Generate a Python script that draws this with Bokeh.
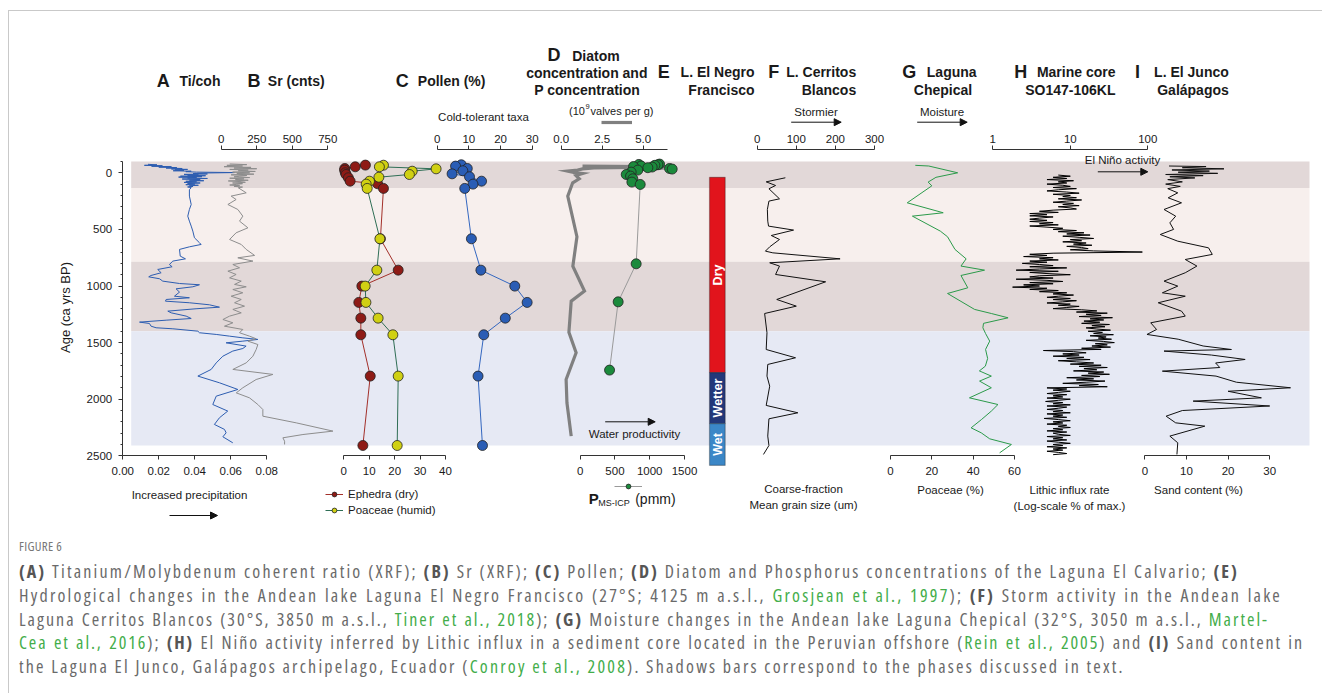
import math
import numpy as np
from bokeh.plotting import figure
from bokeh.models import (Range1d, LinearAxis, LogAxis, LogScale, FixedTicker, SingleIntervalTicker,
                          NumeralTickFormatter, BoxAnnotation, Label, Arrow, NormalHead, Legend,
                          LegendItem, Div)
from bokeh.layouts import column
from bokeh.embed import file_html
from bokeh.resources import INLINE

# ---------------------------------------------------------------- data
phase_edges = [-100, 135, 785, 1400, 2410]
phase_colors = ["#e2d8d8", "#f7efed", "#e2d8d8", "#e6e9f4"]

# A  Ti/coh
ti_age = [-75, -70, -66, -62, -58, -54, -50, -46, -42, -38, -34, -30, -26, -22, -18, -14, -10, -6, -2,
          2, 6, 10, 14, 18, 22, 26, 30, 34, 38, 42, 46, 50, 55, 60, 65, 70, 75, 80, 85, 90, 95, 100,
          105, 110, 115, 120, 125, 130,
          150, 206, 280, 324, 383, 427, 471, 515, 574, 618, 633, 654, 677, 736, 760, 780, 810, 830,
          854, 883, 907, 919, 936, 957, 978, 989, 1007, 1025, 1054, 1090, 1104, 1119, 1134, 1148,
          1166, 1187, 1201, 1222, 1237, 1266, 1287, 1302, 1319, 1331, 1355, 1369, 1378, 1399, 1413,
          1428, 1443, 1458, 1472, 1487, 1502, 1531, 1552, 1575, 1620, 1679, 1737, 1796, 1855, 1914,
          1973, 2047, 2105, 2164, 2223, 2267, 2297, 2332, 2385]
ti_coh = [0.014, 0.019, 0.012, 0.022, 0.016, 0.027, 0.020, 0.030, 0.024, 0.033, 0.027, 0.036, 0.029,
          0.034, 0.028, 0.038, 0.035, 0.041, 0.062, 0.045, 0.039, 0.047, 0.034, 0.042, 0.036, 0.046,
          0.032, 0.044, 0.031, 0.041, 0.036, 0.047, 0.033, 0.043, 0.037, 0.045, 0.035, 0.041, 0.034,
          0.043, 0.036, 0.040, 0.035, 0.042, 0.037, 0.039, 0.036, 0.038,
          0.0370, 0.0370, 0.0380, 0.0370, 0.0361, 0.0370, 0.0380, 0.0389, 0.0398, 0.0426, 0.0435,
          0.0370, 0.0315, 0.0319, 0.0348, 0.0278, 0.0259, 0.0274, 0.0194, 0.0213, 0.0157, 0.0144,
          0.0204, 0.0222, 0.0315, 0.0426, 0.0389, 0.0296, 0.0315, 0.0287, 0.0370, 0.0241, 0.0237,
          0.0370, 0.0481, 0.0537, 0.0407, 0.0250, 0.0269, 0.0352, 0.0380, 0.0241, 0.0093, 0.0148,
          0.0157, 0.0185, 0.0278, 0.0417, 0.0426, 0.0519, 0.0593, 0.0667, 0.0750, 0.0667, 0.0574,
          0.0685, 0.0667, 0.0611, 0.0556, 0.0519, 0.0491, 0.0417, 0.0537, 0.0639, 0.0519, 0.0500,
          0.0583, 0.0537, 0.0509, 0.0565, 0.0574, 0.0556, 0.0611]

# B  Sr counts
sr_age = [-78, -72, -66, -60, -54, -48, -42, -36, -30, -24, -18, -12, -6, 0, 6, 12, 18, 24, 30, 36,
          42, 48, 54, 60, 66, 72, 78, 84, 90, 96, 102, 108, 114, 120, 126, 132,
          177, 206, 236, 280, 324, 383, 427, 486, 530, 589, 633, 677, 730, 751, 780, 810, 839, 869,
          898, 928, 957, 986, 1007, 1031, 1060, 1090, 1119, 1148, 1178, 1207, 1237, 1266, 1296,
          1325, 1355, 1384, 1413, 1443, 1466, 1487, 1517, 1561, 1620, 1679, 1737, 1781, 1826,
          1899, 1944, 1988, 2047, 2091, 2150, 2209, 2282, 2312, 2341, 2371, 2400]
sr_cnts = [60, 180, 40, 150, 20, 210, 90, 250, 60, 190, 120, 240, 80, 200, 110, 230, 70, 180, 130,
           90, 200, 60, 160, 100, 190, 50, 140, 170, 80, 150, 110, 60, 130, 90, 150, 120,
           176, 70, 105, 47, 117, 152, 129, 188, 105, 59, 141, 176, 235, 117, 223, 82, 129, 47,
           105, 59, 141, 94, 176, 82, 152, 70, 141, 94, 164, 82, 141, 59, 12, 82, 23, 152, 129,
           199, 246, 188, 258, 246, 223, 176, 82, 364, 246, 152, 106, 199, 258, 293, 293, 528,
           786, 575, 434, 446, 446]

# C  Pollen (%)
ephedra_age = [-68, -53, -38, -24, 0, 15, 44, 74, 97, 138, 583, 860, 1001, 1145, 1284, 1431, 1796, 2409]
ephedra = [8.5, 4.5, 0.4, 0.3, 0.6, 0.9, 1.8, 2.5, 13.3, 15.6, 14.4, 21.4, 7.1, 5.9, 6.7, 6.7, 10.4, 7.5]
poaceae_age = [-67, -53, -35, -14, 15, 39, 74, 100, 138, 583, 860, 1001, 1145, 1284, 1431, 1796, 2409]
poaceae = [15.6, 14.0, 36.3, 26.9, 25.8, 13.8, 10.1, 8.8, 9.2, 14.2, 13.0, 8.4, 8.7, 13.5, 19.3, 21.4, 21.0]
cold_age = [-71, -59, -38, -18, 9, 35, 74, 100, 138, 583, 860, 1001, 1145, 1284, 1431, 1796, 2409]
cold_taxa = [7.6, 5.8, 9.5, 8.1, 4.7, 10.2, 14.0, 11.3, 8.7, 10.8, 13.8, 24.5, 28.4, 21.5, 14.7, 12.9, 14.3]

# D  Diatoms (10^9 valves/g) and P (ppm)
diatom_age = [-60, -53, -44, -35, -24, -15, 0, 6, 24, 53, 88, 206, 565, 825, 1045, 1134, 1408, 1590,
              1826, 2032, 2326]
diatom = [1.3, 6.8, 2.0, 1.3, 1.0, 0.4, 0.9, 1.3, 0.9, 1.1, 0.7, 0.4, 0.96, 0.71, 1.42, 0.61, 0.47,
          0.91, 0.30, 0.35, 0.61]
p_age = [-77, -74, -71, -66, -60, -55, -51, -45, -38, -33, -24, -6, 15, 29, 53, 82, 103, 804, 1140, 1743]
p_ppm = [1141, 844, 1117, 1074, 877, 767, 1035, 973, 1285, 1323, 829, 733, 662, 724, 757, 743, 863,
         805, 546, 422]

# E  L. El Negro Francisco hydrological phases
phase_names = ["Dry", "Wetter", "Wet"]
phase_top = [40, 1765, 2215]
phase_bottom = [1765, 2215, 2585]
phase_fill = ["#e1141c", "#23387a", "#3b87c7"]

# F  L. Cerritos Blancos mean grain size (um)
cb_age = [44, 80, 112, 141, 230, 250, 324, 427, 471, 506, 554, 589, 654, 692, 707, 760, 795, 824, 898,
          963, 1119, 1178, 1243, 1413, 1561, 1634, 1693, 1796, 1885, 2055, 2120, 2173, 2326, 2409, 2488]
cb_grain = [72, 23, 47, 30, 57, 30, 26, 27, 29, 93, 36, 57, 32, 21, 40, 212, 32, 57, 47, 175, 50, 100,
            19, 25, 23, 98, 27, 25, 32, 23, 104, 30, 27, 30, 16]

# G  Laguna Chepical Poaceae (%)
ch_age = [-66, -60, 0, 40, 82, 115, 265, 353, 383, 515, 565, 677, 760, 824, 860, 907, 1016, 1066, 1207,
          1243, 1281, 1330, 1369, 1420, 1487, 1560, 1640, 1708, 1750, 1796, 1840, 1899, 1988, 2047,
          2105, 2180, 2253, 2297, 2350, 2400, 2474]
ch_poaceae = [12.0, 18.5, 32.5, 22.0, 18.2, 20.0, 8.1, 25.5, 10.6, 24.1, 27.6, 31.2, 36.6, 34.1, 45.5,
              34.1, 37.4, 27.6, 40.7, 48.8, 56.9, 45.0, 44.7, 46.0, 48.0, 46.0, 47.0, 45.9, 43.0, 48.8,
              43.1, 48.8, 38.2, 52.0, 48.8, 44.0, 39.0, 43.9, 48.0, 58.5, 52.8]

# H  SO147-106KL lithic influx (% of max), 10-yr samples from 20 to 2490 yr BP
lith_first, lith_step = 20, 10
lithic = [7, 10, 6, 9, 5, 11, 7, 9, 5, 8,
          10, 6, 12, 7, 5, 9, 13, 6, 10, 8,
          12, 7, 14, 9, 6, 11, 8, 13, 7, 10,
          12, 6, 4, 7, 3, 5, 3, 6, 4, 3,
          5, 3, 6, 4, 7, 3, 5, 8, 6, 12,
          7, 15, 9, 18, 8, 13, 20, 10, 14, 8,
          16, 11, 19, 9, 14, 17, 10, 20, 85, 6,
          3, 5, 2.5, 6, 4, 7, 3, 5, 2.4, 4,
          6, 3, 9, 4, 2, 7, 3, 5, 10, 4,
          3, 6, 2, 5, 8, 3, 6, 2.5, 4, 1.8,
          5, 3, 7, 4, 9, 6, 11, 7, 5, 10,
          6, 12, 8, 5, 10, 7, 13, 9, 6, 14,
          22, 12, 30, 16, 25, 13, 35, 18, 27, 15,
          24, 14, 32, 19, 28, 16, 22, 33, 17, 26,
          20, 36, 18, 29, 23, 34, 16, 27, 37, 21,
          30, 19, 33, 14, 25, 4.5, 11, 16, 8, 13,
          6, 15, 9, 18, 7, 12, 20, 10, 25, 13,
          30, 15, 22, 11, 27, 17, 32, 14, 24, 9,
          20, 12, 28, 16, 8, 23, 13, 30, 5, 9,
          6, 10, 7, 5, 9, 6, 8, 5, 10, 7,
          4.8, 8, 6, 10, 5, 9, 7, 5, 8, 6,
          10, 5, 8, 6, 9, 4.6, 7, 10, 6, 8,
          5, 9, 7, 10, 6, 8, 5, 9, 6, 7,
          10, 5, 8, 6, 9, 5, 7, 10, 6, 8,
          5, 9, 6, 8, 5, 7, 9, 6]
lithic_age = list(range(lith_first, lith_first + lith_step * len(lithic), lith_step))

# I  L. El Junco sand content (%)
junco_age = [-60, -55, -45, -35, -25, -15, -5, 5, 15, 25, 35, 45, 60, 80, 100, 120, 140, 177, 221, 265,
             324, 383, 442, 500, 545, 604, 663, 721, 766, 824, 883, 957, 1001, 1060, 1090, 1148, 1222,
             1266, 1325, 1384, 1428, 1470, 1530, 1561, 1575, 1610, 1649, 1680, 1720, 1752, 1796, 1850,
             1899, 1930, 1988, 2017, 2060, 2100, 2150, 2209, 2238, 2326, 2385, 2488]
junco_sand = [5.8, 14.7, 9.0, 19.0, 6.5, 15.5, 8.0, 17.5, 5.0, 14.0, 6.0, 12.0, 5.5, 9.0, 5.0, 8.5, 5.5,
              7.9, 5.6, 8.8, 4.6, 7.4, 6.0, 6.9, 3.7, 7.9, 15.3, 16.2, 9.7, 12.5, 9.7, 4.6, 7.9, 4.2,
              9.7, 3.2, 8.8, 9.7, 1.4, 2.8, 0.5, 8.0, 14.0, 20.8, 4.6, 16.0, 24.1, 17.0, 18.0, 4.2,
              17.1, 22.0, 35.0, 20.0, 28.0, 11.6, 30.0, 9.0, 5.1, 7.4, 14.4, 6.0, 7.9, 7.7]

# ---------------------------------------------------------------- canvas geometry
W, H = 1312, 522          # canvas size
X0, Y0 = 10, 12           # canvas offset on the page
AGE_Y0, PX_PER_YR = 173.3, 0.1132   # vertical position of age 0 and pixels per year


def page_range(v0, px0, v1, px1):
    """Range whose values v0/v1 fall at page columns px0/px1."""
    k = (px1 - px0) / (v1 - v0)
    return Range1d(v0 + (X0 - px0) / k, v0 + (X0 + W - px0) / k)


def log_page_range(v0, px0, v1, px1):
    r = page_range(math.log10(v0), px0, math.log10(v1), px1)
    return Range1d(10 ** r.start, 10 ** r.end)


p = figure(width=W, height=H, output_backend="svg", toolbar_location=None,
           x_range=Range1d(X0, X0 + W), y_range=Range1d(Y0 + H, Y0),
           x_axis_location=None, y_axis_location=None, min_border=0,
           outline_line_color=None, background_fill_color="white", border_fill_color="white")
p.grid.visible = False

p.extra_y_ranges = {"age": Range1d((Y0 + H - AGE_Y0) / PX_PER_YR, (Y0 - AGE_Y0) / PX_PER_YR)}
p.extra_x_ranges = {
    "a": page_range(0, 123.3, 0.08, 267.3),
    "b": page_range(0, 221.7, 750, 328.3),
    "c": page_range(0, 344.3, 40, 446.0),
    "ct": page_range(0, 437.7, 30, 532.7),
    "d": page_range(0, 561.7, 5, 643.7),
    "p": page_range(0, 580.7, 1500, 685.0),
    "f": page_range(0, 757.7, 300, 875.0),
    "g": page_range(0, 891.0, 60, 1015.0),
    "h": log_page_range(1, 993.3, 100, 1148.3),
    "i": page_range(0, 1145.4, 20, 1228.6),
}
p.extra_x_scales = {"h": LogScale()}

FONT = "Liberation Sans"
INK = "#1a1a1a"

# ---------------------------------------------------------------- shaded phases
for top, bot, col in zip(phase_edges[:-1], phase_edges[1:], phase_colors):
    p.add_layout(BoxAnnotation(left=131.7, right=1310, top=top, bottom=bot, y_range_name="age",
                               fill_color=col, fill_alpha=1, line_color=None, level="underlay"))

# ---------------------------------------------------------------- series
p.line(ti_coh, ti_age, x_range_name="a", y_range_name="age", line_color="#2d5db0", line_width=1)
p.line(sr_cnts, sr_age, x_range_name="b", y_range_name="age", line_color="#8d8d8d", line_width=1)

eph_line = p.line(ephedra, ephedra_age, x_range_name="c", y_range_name="age", line_color="#a3302a", line_width=1)
poa_line = p.line(poaceae, poaceae_age, x_range_name="c", y_range_name="age", line_color="#2f6e55", line_width=1)
p.line(cold_taxa, cold_age, x_range_name="ct", y_range_name="age", line_color="#3467c0", line_width=1)
eph_pts = p.scatter(ephedra, ephedra_age, x_range_name="c", y_range_name="age", size=10,
                    fill_color="#8e1b16", line_color="#222", line_width=0.8)
poa_pts = p.scatter(poaceae, poaceae_age, x_range_name="c", y_range_name="age", size=10,
                    fill_color="#d0d013", line_color="#222", line_width=0.8)
p.scatter(cold_taxa, cold_age, x_range_name="ct", y_range_name="age", size=10,
          fill_color="#2a5db5", line_color="#222", line_width=0.8)

dia_line = p.line(diatom, diatom_age, x_range_name="d", y_range_name="age", line_color="#808080",
                  line_width=3.2, line_join="miter")
p_line = p.line(p_ppm, p_age, x_range_name="p", y_range_name="age", line_color="#9a9a9a", line_width=1)
p_pts = p.scatter(p_ppm, p_age, x_range_name="p", y_range_name="age", size=10,
                  fill_color="#1b8a3c", line_color="#222", line_width=0.8)

# E: phase column
for name, top, bot, col in zip(phase_names, phase_top, phase_bottom, phase_fill):
    p.add_layout(BoxAnnotation(left=710, right=725.7, top=top, bottom=bot, y_range_name="age",
                               fill_color=col, fill_alpha=1, line_color="#111", line_width=1.2))
    p.add_layout(Label(x=718, y=(top + bot) / 2, y_range_name="age", text=name, angle=math.pi / 2,
                       text_align="center", text_baseline="middle", text_color="white",
                       text_font=FONT, text_font_size="12.5px", text_font_style="bold"))

p.line(cb_grain, cb_age, x_range_name="f", y_range_name="age", line_color="#111", line_width=1)
p.line(ch_poaceae, ch_age, x_range_name="g", y_range_name="age", line_color="#2b9a4a", line_width=1)
p.line(lithic, lithic_age, x_range_name="h", y_range_name="age", line_color="#000", line_width=1)
p.line(junco_sand, junco_age, x_range_name="i", y_range_name="age", line_color="#111", line_width=1)

# ---------------------------------------------------------------- axes


def style_axis(ax, standoff):
    ax.axis_line_color = "#333"
    ax.axis_line_width = 1
    ax.major_tick_line_color = "#333"
    ax.major_tick_in = 0
    ax.major_tick_out = 4
    ax.minor_tick_in = 0
    ax.minor_tick_out = 0
    ax.major_label_text_font = FONT
    ax.major_label_text_font_size = "11.5px"
    ax.major_label_text_color = INK
    ax.major_label_standoff = standoff


def h_axis(rng, side, lo, hi, ticks, fmt, log=False):
    cls = LogAxis if log else LinearAxis
    ax = cls(x_range_name=rng, fixed_location=456 if side == "below" else 150, bounds=(lo, hi),
             ticker=FixedTicker(ticks=ticks, minor_ticks=[]), formatter=NumeralTickFormatter(format=fmt))
    style_axis(ax, 7 if side == "below" else 3)
    p.add_layout(ax, side)


h_axis("a", "below", 0, 0.08, [0, 0.02, 0.04, 0.06, 0.08], "0.00")
h_axis("b", "above", 0, 750, [0, 250, 500, 750], "0")
h_axis("c", "below", 0, 40, [0, 10, 20, 30, 40], "0")
h_axis("ct", "above", 0, 30, [0, 10, 20, 30], "0")
h_axis("d", "above", 0, 6.5, [0, 2.5, 5.0], "0.0")
h_axis("p", "below", 0, 1500, [0, 500, 1000, 1500], "0")
h_axis("f", "above", 0, 300, [0, 100, 200, 300], "0")
h_axis("g", "below", 0, 60, [0, 20, 40, 60], "0")
h_axis("h", "above", 1, 100, [1, 10, 100], "0", log=True)
h_axis("i", "below", 0, 30, [0, 10, 20, 30], "0")

yax = LinearAxis(y_range_name="age", fixed_location=122.7, bounds=(-100, 2500),
                 ticker=SingleIntervalTicker(interval=500, num_minor_ticks=5))
style_axis(yax, 6)
yax.major_tick_out = 4
yax.minor_tick_out = 2
yax.minor_tick_line_color = "#333"
p.add_layout(yax, "left")

# ---------------------------------------------------------------- text


def txt(x, y, s, size="11.5px", bold=False, align="left", color=INK, angle=0.0):
    p.add_layout(Label(x=x, y=y, text=s, text_font=FONT, text_font_size=size,
                       text_font_style="bold" if bold else "normal", text_align=align,
                       text_baseline="middle", text_color=color, angle=angle))


def head(letter, lx, y):
    txt(lx, y, letter, size="18px", bold=True, align="center")


head("A", 163.8, 81.7); txt(180, 81.7, "Ti/coh", "14px", True)
head("B", 254.5, 81.7); txt(268.3, 81.7, "Sr (cnts)", "14px", True)
head("C", 402.8, 81.7); txt(418.3, 81.7, "Pollen (%)", "14px", True)
head("D", 554.5, 55); txt(572.7, 56, "Diatom", "14px", True)
txt(587.3, 73.3, "concentration and", "14px", True, "center")
txt(587.7, 90.7, "P concentration", "14px", True, "center")
head("E", 664.2, 72.3); txt(755, 72.7, "L. El Negro", "14px", True, "right")
txt(755, 90.7, "Francisco", "14px", True, "right")
head("F", 774.3, 72.7); txt(856.7, 72.7, "L. Cerritos", "14px", True, "right")
txt(856.7, 90.3, "Blancos", "14px", True, "right")
head("G", 909.7, 72.7); txt(927.3, 72.7, "Laguna", "14px", True)
txt(914.3, 90.3, "Chepical", "14px", True)
head("H", 1021.3, 72.7); txt(1116, 72.7, "Marine core", "14px", True, "right")
txt(1116, 90.3, "SO147-106KL", "14px", True, "right")
head("I", 1138, 72.7); txt(1229.3, 72.7, "L. El Junco", "14px", True, "right")
txt(1229.3, 90.3, "Galápagos", "14px", True, "right")

txt(484, 117.3, "Cold-tolerant taxa", align="center")
txt(569.5, 111.7, "(10", size="11px")
txt(586, 107.2, "9", size="7.5px")
txt(654, 111.7, "valves per g)", size="11px", align="right")
txt(816.5, 112.7, "Stormier", align="center")
txt(942.5, 112.7, "Moisture", align="center")
txt(1123, 160.7, "El Niño activity", align="center")
txt(635, 434.3, "Water productivity", align="center")
txt(190, 495, "Increased precipitation", align="center")
txt(804, 489, "Coarse-fraction", align="center")
txt(804, 505, "Mean grain size (um)", align="center")
txt(951, 490, "Poaceae (%)", align="center")
txt(1070, 490, "Lithic influx rate", align="center")
txt(1070, 506, "(Log-scale % of max.)", align="center")
txt(1199, 490, "Sand content (%)", align="center")
txt(66, 308, "Age (ca yrs BP)", size="13px", align="center", angle=math.pi / 2)
txt(589.3, 499.3, "P", size="15px", bold=True)
txt(598.7, 503.5, "MS-ICP", size="9px")
txt(635.7, 499.3, "(pmm)", size="14px")

# arrows
for xs, xe, y in [(791.7, 841.7, 122.7), (917.7, 967.7, 122.7), (1098.3, 1148.3, 172.3),
                  (605.7, 655.7, 422.3), (170, 218, 516)]:
    p.add_layout(Arrow(x_start=xs, y_start=y, x_end=xe, y_end=y, line_color="#111", line_width=1,
                       end=NormalHead(size=7, fill_color="#111", line_color="#111")))

# keys
leg = Legend(items=[LegendItem(label="Ephedra (dry)", renderers=[eph_line, eph_pts]),
                    LegendItem(label="Poaceae (humid)", renderers=[poa_line, poa_pts])],
             location=(326 - X0, Y0 + H - 517), orientation="vertical")
key_p = Legend(items=[LegendItem(label=" ", renderers=[p_line, p_pts])],
               location=(615 - X0, Y0 + H - 493))
key_d = Legend(items=[LegendItem(label=" ", renderers=[dia_line])],
               location=(602 - X0, Y0 + H - 129))
for lg, gw in [(leg, 18), (key_p, 28), (key_d, 31)]:
    lg.border_line_color = None
    lg.background_fill_alpha = 0
    lg.padding = 0
    lg.margin = 0
    lg.spacing = 4
    lg.glyph_width = gw
    lg.glyph_height = 12
    lg.label_height = 12
    lg.label_standoff = 5
    lg.label_text_font = FONT
    lg.label_text_font_size = "11.5px"
    lg.label_text_color = INK
    p.add_layout(lg)

# ---------------------------------------------------------------- caption
G = "color:#43ad4a"
B = "font-weight:700;color:#555"
J = "text-align:justify;text-align-last:justify;white-space:nowrap;overflow:visible"
caption = f"""
<div style="font-family:'Open Sans',sans-serif;font-stretch:87.5%;font-weight:400;color:#6a6a6a;font-size:18px;
letter-spacing:2.2px;line-height:23.8px;padding-left:5px;padding-top:0px">
<div style="font-size:13px;line-height:16px;color:#777;letter-spacing:0.3px;margin-bottom:6px">FIGURE 6</div>
<div style="width:1220px;{J}"><span style="{B}">(A)</span> Titanium/Molybdenum coherent ratio (XRF); <span style="{B}">(B)</span> Sr (XRF); <span style="{B}">(C)</span> Pollen; <span style="{B}">(D)</span> Diatom and Phosphorus concentrations of the Laguna El Calvario; <span style="{B}">(E)</span></div>
<div style="width:1263px;{J}">Hydrological changes in the Andean lake Laguna El Negro Francisco (27°S; 4125 m a.s.l., <span style="{G}">Grosjean et al., 1997</span>); <span style="{B}">(F)</span> Storm activity in the Andean lake</div>
<div style="width:1250px;letter-spacing:2.0px;{J}">Laguna Cerritos Blancos (30°S, 3850 m a.s.l., <span style="{G}">Tiner et al., 2018</span>); <span style="{B}">(G)</span> Moisture changes in the Andean lake Laguna Chepical (32°S, 3050 m a.s.l., <span style="{G}">Martel-</span></div>
<div style="width:1285px;letter-spacing:1.9px;{J}"><span style="{G}">Cea et al., 2016</span>); <span style="{B}">(H)</span> El Niño activity inferred by Lithic influx in a sediment core located in the Peruvian offshore (<span style="{G}">Rein et al., 2005</span>) and <span style="{B}">(I)</span> Sand content in</div>
<div style="white-space:nowrap">the Laguna El Junco, Galápagos archipelago, Ecuador (<span style="{G}">Conroy et al., 2008</span>). Shadows bars correspond to the phases discussed in text.</div>
</div>"""
div = Div(text=caption, width=W, height=150)

page = column(p, div, margin=(10, 0, 0, 8),
              styles={"border-top": "1px solid #c9c9c9", "border-left": "1px solid #c9c9c9"})

open("out.html", "w").write(file_html(page, INLINE))
